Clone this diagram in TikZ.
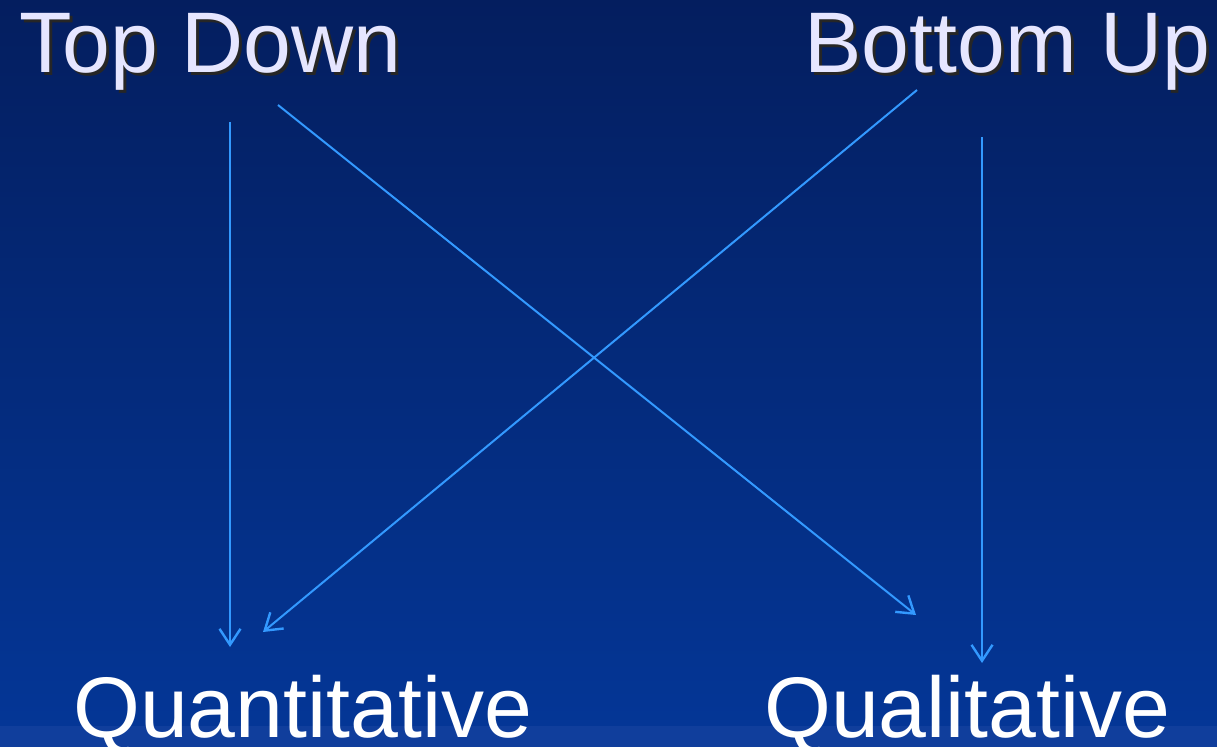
\documentclass[tikz,border=0pt]{standalone}
\usepackage{fontspec}
\setmainfont{Liberation Sans}
\usetikzlibrary{arrows.meta}
\definecolor{bgtop}{RGB}{4,30,95}
\definecolor{bgbot}{RGB}{4,54,150}
\definecolor{bgband}{RGB}{16,62,156}
\definecolor{arrowblue}{RGB}{51,153,255}
\definecolor{titletext}{RGB}{230,230,255}
\tikzset{
  title/.style={anchor=base west, inner sep=0pt, font=\fontsize{86}{86}\selectfont, text=titletext},
  shadowtxt/.style={anchor=base west, inner sep=0pt, font=\fontsize{86}{86}\selectfont, text=black!85},
  label/.style={anchor=base west, inner sep=0pt, font=\fontsize{86}{86}\selectfont, text=white},
  link/.style={draw=arrowblue, line width=2pt, -{Straight Barb[length=16pt,width=21pt,line width=2.4pt]}}
}
\begin{document}
\begin{tikzpicture}[x=1pt,y=-1pt]
\useasboundingbox (0,0) rectangle (1217,747);
\shade[top color=bgtop, bottom color=bgbot] (0,0) rectangle (1217,726);
\fill[bgband] (0,726) rectangle (1217,747);
% titles with shadow
\node[shadowtxt] at (22,75) {Top Down};
\node[title] (td) at (19,72) {Top Down};
\node[shadowtxt] at (807,75) {Bottom Up};
\node[title] (bu) at (804,72) {Bottom Up};
\node[label] (qn) at (73,737) {Quantitative};
\node[label] (ql) at (764,737) {Qualitative};
% connector ends
\coordinate (a1s) at (230,122);
\coordinate (a1e) at (230,647);
\coordinate (a2s) at (278,105);
\coordinate (a2e) at (916,615);
\coordinate (a3s) at (917,90);
\coordinate (a3e) at (263,632);
\coordinate (a4s) at (982,137);
\coordinate (a4e) at (982,663);
\draw[link] (a1s) -- (a1e);
\draw[link] (a2s) -- (a2e);
\draw[link] (a3s) -- (a3e);
\draw[link] (a4s) -- (a4e);
\end{tikzpicture}
\end{document}
